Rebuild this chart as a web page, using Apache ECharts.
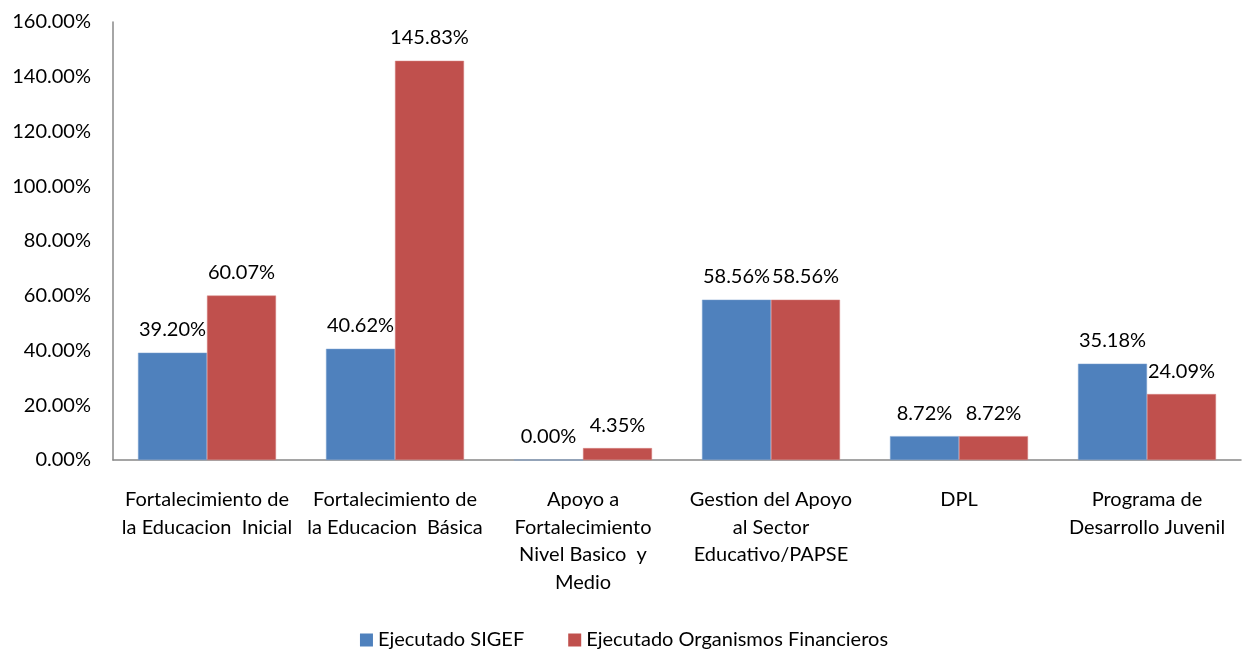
<!DOCTYPE html>
<html>
<head>
<meta charset="utf-8">
<script src="https://cdn.jsdelivr.net/npm/echarts@6/dist/echarts.min.js"></script>
<style>
  html, body { margin: 0; padding: 0; background: #fff; }
  #chart { width: 1248px; height: 651px; }
</style>
</head>
<body>
<div id="chart"></div>
<script>
// categorias (con salto de linea como en el original)
const categories = [
  'Fortalecimiento de\nla Educacion  Inicial',
  'Fortalecimiento de\nla Educacion  Básica',
  'Apoyo a\nFortalecimiento\nNivel Basico  y\nMedio',
  'Gestion del Apoyo\nal Sector\nEducativo/PAPSE',
  'DPL',
  'Programa de\nDesarrollo Juvenil'
]
const sigef = [39.20, 40.62, 0.00, 58.56, 8.72, 35.18]
const organismos = [60.07, 145.83, 4.35, 58.56, 8.72, 24.09]
const seriesNames = ['Ejecutado SIGEF', 'Ejecutado Organismos Financieros']

const font = 'Lato, "Open Sans", sans-serif'
const myChart = echarts.init(document.getElementById('chart'))

const label = {
  show: true,
  position: 'top',
  distance: 13,
  color: '#000',
  fontSize: 20,
  fontFamily: font,
  formatter: p => p.value.toFixed(2) + '%'
}

myChart.setOption({
  animation: false,
  textStyle: { fontFamily: font },
  grid: { left: 113, right: 7, top: 22, bottom: 191, containLabel: false },
  legend: {
    top: 625,
    itemWidth: 13,
    itemHeight: 13,
    itemGap: 44,
    icon: 'rect',
    itemStyle: { borderWidth: 0 },
    textStyle: { fontSize: 20, color: '#000', fontFamily: font },
    data: seriesNames
  },
  xAxis: {
    type: 'category',
    data: categories,
    axisTick: { show: false },
    axisLine: { lineStyle: { color: '#888', width: 1.5 } },
    axisLabel: {
      interval: 0,
      margin: 26,
      color: '#000',
      fontSize: 20,
      lineHeight: 27.5,
      fontFamily: font
    }
  },
  yAxis: {
    type: 'value',
    min: 0,
    max: 160,
    interval: 20,
    splitLine: { show: false },
    axisTick: { show: false },
    axisLine: { show: true, lineStyle: { color: '#888', width: 1.5 } },
    axisLabel: {
      margin: 22,
      color: '#000',
      fontSize: 20,
      fontFamily: font,
      formatter: v => v.toFixed(2) + '%'
    }
  },
  series: [
    {
      name: seriesNames[0],
      type: 'bar',
      data: sigef,
      barGap: '0%',
      barCategoryGap: '26.6%',
      itemStyle: { color: '#4F81BD', borderColor: '#7fa3d1', borderWidth: 0.5 },
      label: label
    },
    {
      name: seriesNames[1],
      type: 'bar',
      data: organismos,
      itemStyle: { color: '#C0504D', borderColor: '#d68482', borderWidth: 0.5 },
      label: label
    }
  ]
})
</script>
</body>
</html>
